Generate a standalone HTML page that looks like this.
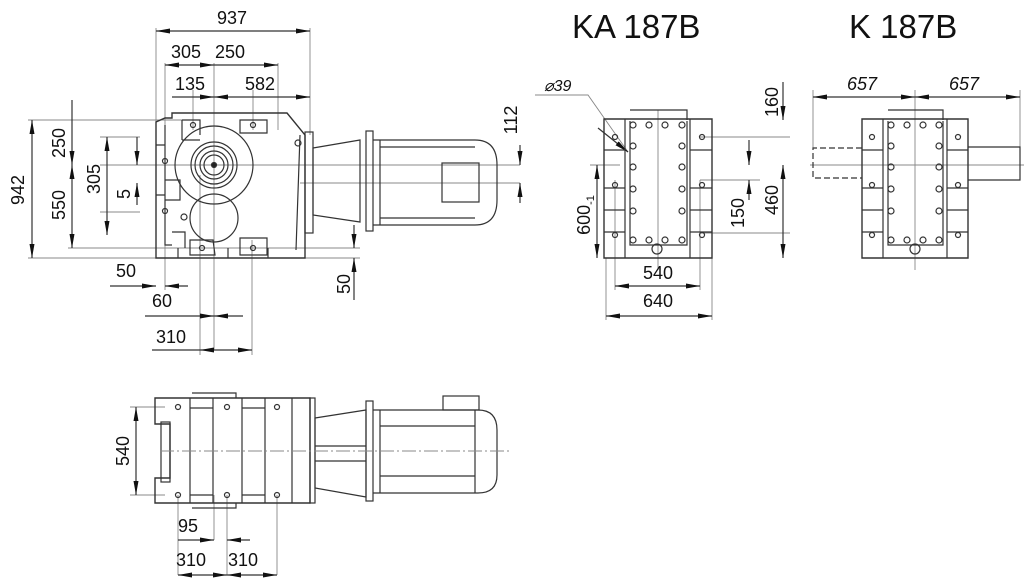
<!DOCTYPE html>
<html><head><meta charset="utf-8"><style>
html,body{margin:0;padding:0;background:#fff;width:1024px;height:579px;overflow:hidden}
svg{display:block}
text{font-family:"Liberation Sans",sans-serif;fill:#111}
</style></head><body>
<svg width="1024" height="579" viewBox="0 0 1024 579" xmlns="http://www.w3.org/2000/svg">
<defs>
<marker id="a" viewBox="0 0 14 5" refX="14" refY="2.5" markerWidth="14" markerHeight="5" orient="auto-start-reverse" markerUnits="userSpaceOnUse"><path d="M0,0 L14,2.5 L0,5z" fill="#111"/></marker>
</defs>
<g stroke="#333" fill="none" stroke-width="1.2">
<!-- ===== TOP LEFT VIEW ===== -->
<path d="M156 28V258 M165 63V290 M310 28V135 M278 63V130 M214 63V350 M200 175V355 M252 240V355 M193 90V130 M253 90V130 M28 120H156 M68 120H190 M68 248H360 M28 258H360 M100 165H520 M300 183H520 M100 137H140 M100 212H140" stroke="#888" stroke-width=".9"/>
<line x1="156" y1="31" x2="310" y2="31" marker-start="url(#a)" marker-end="url(#a)"/>
<line x1="165" y1="65" x2="214" y2="65" marker-start="url(#a)" marker-end="url(#a)"/>
<line x1="214" y1="65" x2="278" y2="65" marker-end="url(#a)"/>
<line x1="172" y1="97" x2="214" y2="97" marker-end="url(#a)"/>
<line x1="214" y1="97" x2="310" y2="97" marker-start="url(#a)" marker-end="url(#a)"/>
<line x1="32" y1="120" x2="32" y2="258" marker-start="url(#a)" marker-end="url(#a)"/>
<line x1="72" y1="100" x2="72" y2="165" marker-end="url(#a)"/>
<line x1="72" y1="165" x2="72" y2="248" marker-start="url(#a)" marker-end="url(#a)"/>
<line x1="107" y1="137" x2="107" y2="235" marker-start="url(#a)" marker-end="url(#a)"/>
<line x1="137" y1="137" x2="137" y2="165" marker-end="url(#a)"/>
<line x1="137" y1="183" x2="137" y2="205" marker-start="url(#a)"/>
<line x1="110" y1="286" x2="156" y2="286" marker-end="url(#a)"/>
<line x1="165" y1="286" x2="188" y2="286" marker-start="url(#a)"/>
<line x1="145" y1="316" x2="214" y2="316" marker-end="url(#a)"/>
<line x1="214" y1="316" x2="243" y2="316" marker-start="url(#a)"/>
<line x1="152" y1="350" x2="200" y2="350"/>
<line x1="200" y1="350" x2="252" y2="350" marker-start="url(#a)" marker-end="url(#a)"/>
<line x1="354" y1="225" x2="354" y2="248" marker-end="url(#a)"/>
<line x1="354" y1="258" x2="354" y2="300" marker-start="url(#a)"/>
<line x1="520" y1="145" x2="520" y2="165" marker-end="url(#a)"/>
<line x1="520" y1="183" x2="520" y2="203" marker-start="url(#a)"/>
<path d="M172 113H287L305 135V258H156V122L165 118H172Z" stroke-width="1.4"/>
<path d="M165 125V245H172 M156 145H165 M156 195H165 M165 180H180V200H165 M182 120V140 M182 120H200V135 M240 120H267V133H240Z M182 140H200 M172 232H185V248 M190 240H213L215 255H190Z M240 238H267V255H240Z M268 248V258 M228 248V258 M178 248V258 M300 135L296 250" />
<circle cx="214" cy="165" r="39"/>
<circle cx="214" cy="165" r="23"/>
<circle cx="214" cy="165" r="19"/>
<circle cx="214" cy="165" r="14"/>
<circle cx="214" cy="165" r="10"/>
<circle cx="214" cy="165" r="2.5" fill="#222"/>
<circle cx="214" cy="218" r="24"/>
<circle cx="298" cy="143" r="3"/><circle cx="184" cy="217" r="3"/>
<circle cx="193" cy="125" r="2.5"/><circle cx="253" cy="125" r="2.5"/><circle cx="165" cy="161" r="2.5"/><circle cx="165" cy="211" r="2.5"/><circle cx="202" cy="248" r="2.5"/><circle cx="253" cy="248" r="2.5"/>
<rect x="305" y="132" width="8" height="101"/>
<path d="M313 148L360 140V222L313 215Z"/>
<rect x="366" y="131" width="7" height="100"/>
<path d="M373 140H380V225H373 M380 140H475Q497 140 497 165V200Q497 225 475 225H380Z M380 147H475 M380 218H475"/>
<rect x="442" y="163" width="37" height="39"/>
<!-- ===== BOTTOM VIEW ===== -->
<path d="M130 407H165 M130 495H165 M178 495V575 M214 495V540 M227 495V575 M277 495V575" stroke="#888" stroke-width=".9"/>
<line x1="136" y1="407" x2="136" y2="495" marker-start="url(#a)" marker-end="url(#a)"/>
<line x1="178" y1="540" x2="214" y2="540" marker-end="url(#a)"/>
<line x1="227" y1="540" x2="250" y2="540" marker-start="url(#a)"/>
<line x1="178" y1="575" x2="227" y2="575" marker-start="url(#a)" marker-end="url(#a)"/>
<line x1="227" y1="575" x2="277" y2="575" marker-start="url(#a)" marker-end="url(#a)"/>
<path d="M155 398H310V503H155V478H170V424H155Z" stroke-width="1.4"/>
<rect x="161" y="422" width="9" height="60"/>
<path d="M190 398V503 M213 398V503 M242 398V503 M265 398V503 M292 398V503 M190 408H213 M190 495H213 M242 408H265 M242 495H265 M192 393H236V398 M192 508H236V503"/>
<circle cx="178" cy="407" r="2.5"/><circle cx="227" cy="407" r="2.5"/><circle cx="277" cy="407" r="2.5"/>
<circle cx="178" cy="495" r="2.5"/><circle cx="227" cy="495" r="2.5"/><circle cx="277" cy="495" r="2.5"/>
<rect x="310" y="398" width="5" height="105"/>
<path d="M315 418L366 410V497L315 488Z M315 446H366 M315 461H366"/>
<rect x="366" y="401" width="7" height="100"/>
<path d="M373 410H380V493H373 M380 410H478Q497 410 497 430V475Q497 493 478 493H380Z M380 426H475 M380 476H475 M475 410V493"/>
<rect x="443" y="396" width="36" height="14"/>
<path d="M160 451H510" stroke="#888" stroke-dasharray="14 3 2 3" stroke-width=".9"/>
<!-- ===== KA VIEW ===== -->
<path d="M535 95H588L628 152 M606 258V320 M712 258V320 M615 180V290 M700 180V290 M590 165H620 M700 137H790 M700 233H790 M700 180H760 M658 110V270" stroke="#888" stroke-width=".9"/>
<line x1="598" y1="128" x2="628" y2="152" marker-end="url(#a)"/>
<line x1="615" y1="286" x2="700" y2="286" marker-start="url(#a)" marker-end="url(#a)"/>
<line x1="606" y1="316" x2="712" y2="316" marker-start="url(#a)" marker-end="url(#a)"/>
<line x1="597" y1="165" x2="597" y2="258" marker-start="url(#a)" marker-end="url(#a)"/>
<line x1="749" y1="140" x2="749" y2="165" marker-end="url(#a)"/>
<line x1="749" y1="180" x2="749" y2="200" marker-start="url(#a)"/>
<line x1="783" y1="82" x2="783" y2="120" marker-end="url(#a)"/>
<line x1="783" y1="165" x2="783" y2="258" marker-start="url(#a)" marker-end="url(#a)"/>
<path d="M604 119H712V258H604Z" stroke-width="1.4"/>
<path d="M625 119V258 M690 119V258 M630 110H687V120 M630 121V245H687V121 M604 150H625 M604 188H625 M604 210H625 M604 232H625 M690 150H712 M690 188H712 M690 210H712 M690 232H712"/>
<circle cx="615" cy="137" r="2.5"/><circle cx="615" cy="185" r="2.5"/><circle cx="615" cy="235" r="2.5"/>
<circle cx="702" cy="137" r="2.5"/><circle cx="702" cy="185" r="2.5"/><circle cx="702" cy="235" r="2.5"/>
<circle cx="633" cy="125" r="3"/><circle cx="649" cy="125" r="3"/><circle cx="665" cy="125" r="3"/><circle cx="682" cy="125" r="3"/>
<circle cx="633" cy="146" r="3"/><circle cx="633" cy="167" r="3"/><circle cx="633" cy="189" r="3"/><circle cx="633" cy="211" r="3"/><circle cx="633" cy="240" r="3"/>
<circle cx="682" cy="146" r="3"/><circle cx="682" cy="167" r="3"/><circle cx="682" cy="189" r="3"/><circle cx="682" cy="211" r="3"/><circle cx="682" cy="240" r="3"/>
<circle cx="649" cy="240" r="3"/><circle cx="665" cy="240" r="3"/><circle cx="657" cy="249" r="5"/>
<!-- ===== K VIEW ===== -->
<path d="M813 90V150 M1020 90V150 M915 90V270 M810 165H1024" stroke="#888" stroke-width=".9"/>
<line x1="813" y1="97" x2="915" y2="97" marker-start="url(#a)" marker-end="url(#a)"/>
<line x1="915" y1="97" x2="1020" y2="97" marker-start="url(#a)" marker-end="url(#a)"/>
<path d="M862 119H968V258H862Z" stroke-width="1.4"/>
<path d="M883 119V258 M947 119V258 M888 110H943V120 M888 121V245H943V121 M862 150H883 M862 188H883 M862 210H883 M862 232H883 M947 150H968 M947 188H968 M947 210H968 M947 232H968"/>
<path d="M862 148H813V178H862" stroke-dasharray="6 3"/>
<path d="M968 147H1020V180H968"/>
<circle cx="872" cy="137" r="2.5"/><circle cx="872" cy="185" r="2.5"/><circle cx="872" cy="235" r="2.5"/>
<circle cx="958" cy="137" r="2.5"/><circle cx="958" cy="185" r="2.5"/><circle cx="958" cy="235" r="2.5"/>
<circle cx="891" cy="125" r="3"/><circle cx="907" cy="125" r="3"/><circle cx="923" cy="125" r="3"/><circle cx="939" cy="125" r="3"/>
<circle cx="891" cy="146" r="3"/><circle cx="891" cy="167" r="3"/><circle cx="891" cy="189" r="3"/><circle cx="891" cy="211" r="3"/><circle cx="891" cy="240" r="3"/>
<circle cx="939" cy="146" r="3"/><circle cx="939" cy="167" r="3"/><circle cx="939" cy="189" r="3"/><circle cx="939" cy="211" r="3"/><circle cx="939" cy="240" r="3"/>
<circle cx="907" cy="240" r="3"/><circle cx="923" cy="240" r="3"/><circle cx="915" cy="249" r="5"/>
</g>
<g font-size="18">
<text x="232" y="24" text-anchor="middle">937</text>
<text x="171" y="58">305</text><text x="215" y="58">250</text>
<text x="175" y="90">135</text><text x="245" y="90">582</text>
<text x="116" y="277">50</text>
<text x="152" y="307">60</text>
<text x="156" y="343">310</text>
<text transform="translate(24,190) rotate(-90)" text-anchor="middle">942</text>
<text transform="translate(65,143) rotate(-90)" text-anchor="middle">250</text>
<text transform="translate(65,205) rotate(-90)" text-anchor="middle">550</text>
<text transform="translate(100,179) rotate(-90)" text-anchor="middle">305</text>
<text transform="translate(130,194) rotate(-90)" text-anchor="middle">5</text>
<text transform="translate(350,284) rotate(-90)" text-anchor="middle">50</text>
<text transform="translate(517,120) rotate(-90)" text-anchor="middle">112</text>
<text transform="translate(129,451) rotate(-90)" text-anchor="middle">540</text>
<text x="178" y="532">95</text>
<text x="176" y="566">310</text><text x="228" y="566">310</text>
<text x="658" y="279" text-anchor="middle">540</text>
<text x="658" y="307" text-anchor="middle">640</text>
<text transform="translate(590,215) rotate(-90)" text-anchor="middle">600<tspan font-size="11" dy="4">-1</tspan></text>
<text transform="translate(744,213) rotate(-90)" text-anchor="middle">150</text>
<text transform="translate(778,102) rotate(-90)" text-anchor="middle">160</text>
<text transform="translate(778,200) rotate(-90)" text-anchor="middle">460</text>
<text x="544" y="91" font-style="italic" font-size="16">⌀39</text>
<text x="847" y="90" font-style="italic">657</text>
<text x="949" y="90" font-style="italic">657</text>
</g>
<text x="572" y="38" font-size="33">KA 187B</text>
<text x="849" y="38" font-size="33">K 187B</text>
</svg>
</body></html>
